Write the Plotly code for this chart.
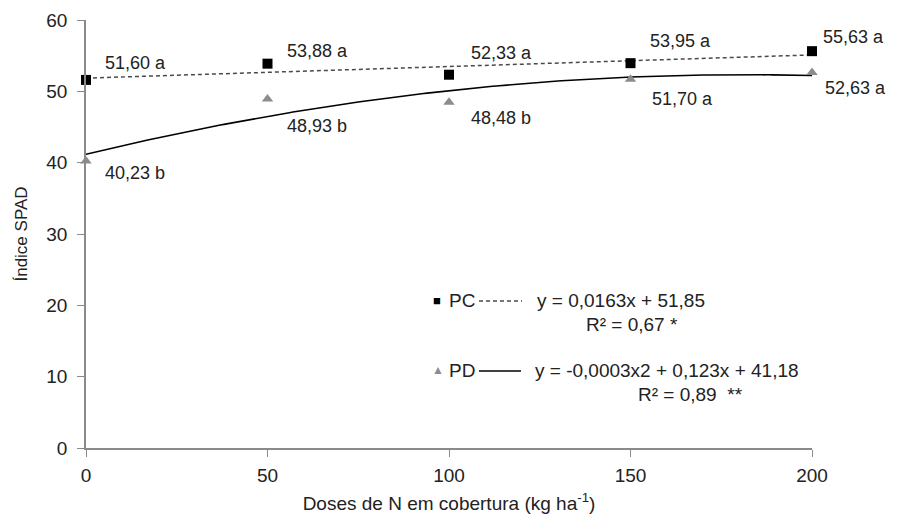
import numpy as np
import plotly.graph_objects as go

doses = [0, 50, 100, 150, 200]
pc_values = [51.60, 53.88, 52.33, 53.95, 55.63]
pd_values = [40.23, 48.93, 48.48, 51.70, 52.63]
pc_labels = ["51,60 a", "53,88 a", "52,33 a", "53,95 a", "55,63 a"]
pd_labels = ["40,23 b", "48,93 b", "48,48 b", "51,70 a", "52,63 a"]
y_ticks = [0, 10, 20, 30, 40, 50, 60]
x_ticks = [0, 50, 100, 150, 200]

# label pixel offsets (placement only)
pc_off = [(17, 17), (17, 13), (20, 22), (17, 22), (9, 14)]
pd_off = [(17, -12), (17, -27), (20, -16), (19, -20), (11, -15)]

FONT = "Liberation Sans, Arial, sans-serif"
TXT = "#222222"
AX = "#8a8a8a"

xs = np.linspace(0, 200, 201)
pc_fit = np.polyval(np.polyfit(doses, pc_values, 1), xs)
pd_fit = np.polyval(np.polyfit(doses, pd_values, 2), xs)

fig = go.Figure()
fig.add_trace(go.Scatter(x=xs, y=pc_fit, mode="lines",
                         line=dict(color="#4a4a4a", width=1.5, dash="4px,3px"),
                         hoverinfo="skip", showlegend=False))
fig.add_trace(go.Scatter(x=xs, y=pd_fit, mode="lines",
                         line=dict(color="black", width=1.6),
                         hoverinfo="skip", showlegend=False))
fig.add_trace(go.Scatter(x=doses, y=pc_values, mode="markers", cliponaxis=False,
                         marker=dict(symbol="square", size=10, color="black"),
                         showlegend=False))
fig.add_trace(go.Scatter(x=doses, y=pd_values, mode="markers", cliponaxis=False,
                         marker=dict(symbol="triangle-up", size=10, color="#8c8c8c"),
                         showlegend=False))

for x, y, t, (dx, dy) in zip(doses, pc_values, pc_labels, pc_off):
    fig.add_annotation(x=x, y=y, text=t, showarrow=False, xanchor="left",
                       yanchor="middle", xshift=dx, yshift=dy,
                       font=dict(family=FONT, size=18, color=TXT))
for x, y, t, (dx, dy) in zip(doses, pd_values, pd_labels, pd_off):
    fig.add_annotation(x=x, y=y, text=t, showarrow=False, xanchor="left",
                       yanchor="middle", xshift=dx, yshift=dy,
                       font=dict(family=FONT, size=18, color=TXT))

# legend / equations block (paper coordinates)
def pxx(px):
    return (px - 86) / (812 - 86)

def pxy(py):
    return (448 - py) / (448 - 20)

legend_items = [
    (431, 300, "<span style='color:black'>■</span>", 13),
    (447, 300, "PC", 19),
    (535, 300, "y = 0,0163x + 51,85", 19),
    (584, 324, "R² = 0,67 *", 19),
    (430, 370, "<span style='color:#8c8c8c'>▲</span>", 12),
    (447, 370, "PD", 19),
    (533, 370, "y = -0,0003x2 + 0,123x + 41,18", 19),
    (636, 394, "R² = 0,89  **", 19),
]
for px, py, t, fs in legend_items:
    fig.add_annotation(xref="paper", yref="paper", x=pxx(px), y=pxy(py), text=t,
                       showarrow=False, xanchor="left", yanchor="middle",
                       font=dict(family=FONT, size=fs, color=TXT))

fig.add_shape(type="line", xref="paper", yref="paper",
              x0=pxx(479), x1=pxx(522), y0=pxy(301), y1=pxy(301),
              line=dict(color="#4a4a4a", width=1.5, dash="4px,3px"))
fig.add_shape(type="line", xref="paper", yref="paper",
              x0=pxx(479), x1=pxx(521), y0=pxy(371), y1=pxy(371),
              line=dict(color="black", width=1.6))

fig.update_layout(
    width=907, height=517,
    margin=dict(l=86, r=95, t=20, b=69),
    paper_bgcolor="white", plot_bgcolor="white",
    font=dict(family=FONT, size=19, color=TXT),
)
fig.update_xaxes(range=[0, 200], tickvals=x_ticks, showgrid=False, zeroline=False,
                 showline=True, linecolor=AX, linewidth=1.5, automargin=False,
                 ticks="outside", ticklen=7, tickcolor=AX, ticklabelstandoff=2,
                 tickfont=dict(family=FONT, size=19, color=TXT),
                 title=dict(text="Doses de N em cobertura (kg ha<sup>-1</sup>)",
                            font=dict(family=FONT, size=19, color=TXT), standoff=12))
fig.update_yaxes(range=[0, 60], tickvals=y_ticks, showgrid=False, zeroline=False,
                 showline=True, linecolor=AX, linewidth=1.5, automargin=False,
                 ticks="outside", ticklen=7, tickcolor=AX, ticklabelstandoff=6,
                 tickfont=dict(family=FONT, size=19, color=TXT),
                 title=dict(text="Índice SPAD",
                            font=dict(family=FONT, size=17, color=TXT), standoff=14))

fig.write_html("out.html")
